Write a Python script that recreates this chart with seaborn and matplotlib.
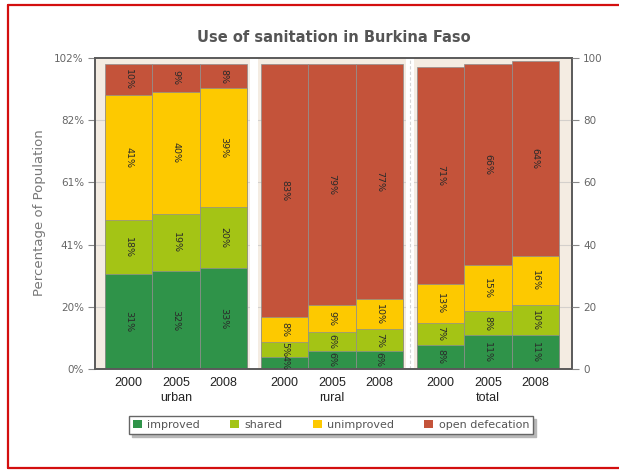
import numpy as np
import pandas as pd
import matplotlib
matplotlib.use("Agg")
import matplotlib.pyplot as plt
from matplotlib.patches import Patch
from matplotlib.lines import Line2D
import seaborn as sns

# Sanitation use (% of population) by area and survey year
regions = ["urban", "rural", "total"]
years = ["2000", "2005", "2008"]
improved = [31, 32, 33, 4, 6, 6, 8, 11, 11]
shared = [18, 19, 20, 5, 6, 7, 7, 8, 10]
unimproved = [41, 40, 39, 8, 9, 10, 13, 15, 16]
open_defecation = [10, 9, 8, 83, 79, 77, 71, 66, 64]

layer_names = ["improved", "shared", "unimproved", "open defecation"]
layer_values = [improved, shared, unimproved, open_defecation]
layer_colors = ["#2f9349", "#a4c415", "#fdc900", "#c4533a"]

sns.set_theme(style="white")
plt.rcParams["font.family"] = ["DejaVu Sans"]

# bar positions: three bars per area, groups separated by a small gap
group_pitch = 3.29
rows = []
for gi, reg in enumerate(regions):
    for yi, yr in enumerate(years):
        k = gi * 3 + yi
        rows.append({"region": reg, "year": yr, "pos": gi * group_pitch + yi,
                     **{name: vals[k] for name, vals in zip(layer_names, layer_values)}})
df = pd.DataFrame(rows)
cum = df[layer_names].cumsum(axis=1)
for name in layer_names:
    df["top_" + name] = cum[name]

fig = plt.figure(figsize=(6.19, 4.70), dpi=100)
fig.patch.set_facecolor("white")
ax = fig.add_axes([95 / 619, 1 - 369 / 470, (572 - 95) / 619, (369 - 58) / 470])
ax.set_facecolor("#f4ece2")

xmin, xmax = -0.71, 2 * group_pitch + 2 + 0.5 + 0.275
ax.set_xlim(xmin, xmax)
ax.set_ylim(0, 102)

# white separators between the area groups
for gi in range(1, 3):
    g0 = (gi - 1) * group_pitch + 2.5
    g1 = gi * group_pitch - 0.5
    mid = (g0 + g1) / 2
    ax.axvspan(mid - 0.09, mid + 0.09, color="white", zorder=0.5, lw=0)
    if gi == 2:
        ax.axvline(mid, color="#d6d6d6", lw=0.8, ls=(0, (3, 2)), zorder=0.6)

# horizontal grid lines
yticks = np.linspace(0, 102, 6)
for yv in yticks[1:-1]:
    ax.axhline(yv, color="#d4d0cc", lw=0.8, zorder=0.4)

# stacked bars: draw cumulative totals from the top layer down
for name, color in reversed(list(zip(layer_names, layer_colors))):
    sns.barplot(data=df, x="pos", y="top_" + name, native_scale=True, width=1.0,
                color=color, saturation=1, edgecolor="#8f8f8f", linewidth=0.5,
                errorbar=None, ax=ax, zorder=2)

# value labels in the middle of each segment
for _, r in df.iterrows():
    base = 0
    for name in layer_names:
        v = r[name]
        ax.text(r["pos"], base + v / 2, f"{v}%", rotation=-90, ha="center", va="center",
                fontsize=6.8, color="#2a2a2a", zorder=5)
        base += v

ax.set_xlabel("")
ax.set_ylabel("")
ax.set_xticks(df["pos"], labels=df["year"])
ax.tick_params(axis="x", length=0, pad=6, labelsize=9, labelcolor="#222222")
for lbl in ax.get_xticklabels():
    lbl.set_family("Liberation Sans")

ax.set_yticks(yticks, labels=[f"{round(v)}%" for v in yticks])
ax.tick_params(axis="y", length=5, width=0.8, color="#888888", direction="out",
               labelsize=7.5, labelcolor="#666666", pad=3, left=True)

for sp in ax.spines.values():
    sp.set_color("#5a5a5a")
    sp.set_linewidth(1.4)

# secondary scale on the right
ax2 = ax.twinx()
ax2.set_ylim(0, 100)
ax2.set_yticks(np.arange(0, 101, 20))
ax2.tick_params(axis="y", length=5, width=0.8, color="#888888", direction="out",
                labelsize=7.5, labelcolor="#666666", pad=3, right=True)
for sp in ax2.spines.values():
    sp.set_visible(False)
ax2.grid(False)

# area names under the middle year of each group
for gi, reg in enumerate(regions):
    ax.text(gi * group_pitch + 1, -0.093, reg, transform=ax.get_xaxis_transform(),
            ha="center", va="center", fontsize=9, color="#222222", family="Liberation Sans")

fig.text(333.5 / 619, 1 - 37 / 470, "Use of sanitation in Burkina Faso", ha="center", va="center",
         fontsize=10.5, fontweight="bold", color="#555555")
fig.text(40 / 619, 1 - 213 / 470, "Percentage of Population", rotation=90, ha="center", va="center",
         fontsize=9.5, color="#777777")

handles = [Patch(facecolor=c, edgecolor="none") for c in layer_colors]
leg = fig.legend(handles, layer_names, loc="center", bbox_to_anchor=(331 / 619, 1 - 425 / 470),
                 ncol=4, fontsize=8, frameon=True, fancybox=False,
                 shadow={"color": "#b8b8b8", "alpha": 1.0},
                 handlelength=0.8, handleheight=0.8, handletextpad=0.5, columnspacing=2.7,
                 borderpad=0.35, labelcolor="#555555")
leg.get_frame().set_edgecolor("#666666")
leg.get_frame().set_linewidth(1.0)

# red outline around the figure
red = "#d30f0f"
fig.add_artist(Line2D([7.5 / 619, 7.5 / 619], [1 - 4.5 / 470, 1 - 468 / 470], transform=fig.transFigure,
                      color=red, lw=1.6))
fig.add_artist(Line2D([7.5 / 619, 1.01], [1 - 4.5 / 470, 1 - 4.5 / 470], transform=fig.transFigure,
                      color=red, lw=1.6))
fig.add_artist(Line2D([7.5 / 619, 1.01], [1 - 468 / 470, 1 - 468 / 470], transform=fig.transFigure,
                      color=red, lw=1.6))

fig.savefig("out.png", dpi=100)
